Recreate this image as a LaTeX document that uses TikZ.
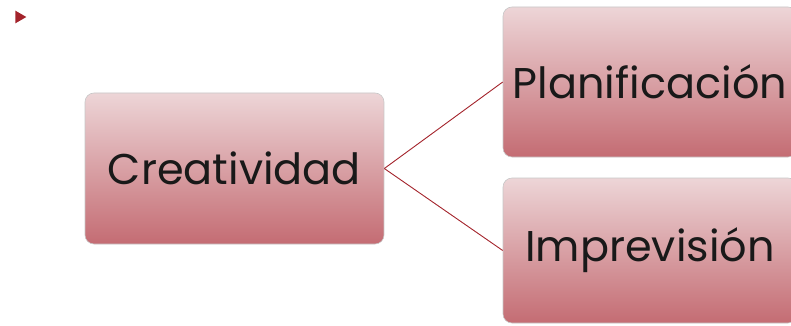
\documentclass[tikz,border=0pt]{standalone}
\usepackage{fontspec}
\setmainfont{Poppins}
\usetikzlibrary{shapes.geometric}
\definecolor{rojo}{HTML}{A3232B}
\definecolor{rosaalto}{HTML}{EDD5D7}
\definecolor{rosabajo}{HTML}{C46C73}
\tikzset{
  caja/.style={draw=black!22, line width=0.6pt, rounded corners=9pt,
    top color=rosaalto, bottom color=rosabajo, text=black!90,
    inner sep=0pt, font=\fontsize{43}{50}\selectfont},
  rama/.style={draw=rojo, line width=0.9pt}
}
\begin{document}
\begin{tikzpicture}[x=1pt,y=-1pt]
	%%%%% START %%%%%
	\useasboundingbox (0,0) rectangle (791,326);
	\clip (0,0) rectangle (791,326);
	
	\node[fill=rojo, isosceles triangle, isosceles triangle apex angle=60, inner sep=0pt, minimum width=12pt, minimum height=11pt] (bala) at (19,17) {};
	
	\node[caja, minimum width=299pt, minimum height=151pt] (crea) at (234.5,168.5) {Creatividad};
	\node[caja, minimum width=294pt, minimum height=150pt] (plan) at (650,82) {Planificación};
	\node[caja, minimum width=294pt, minimum height=145pt] (impr) at (650,250.5) {Imprevisión};
	
	\draw[rama] (crea.east) -- (plan.west);
	\draw[rama] (crea.east) -- (impr.west);
	%%%%% END %%%%%
\end{tikzpicture}
\end{document}
